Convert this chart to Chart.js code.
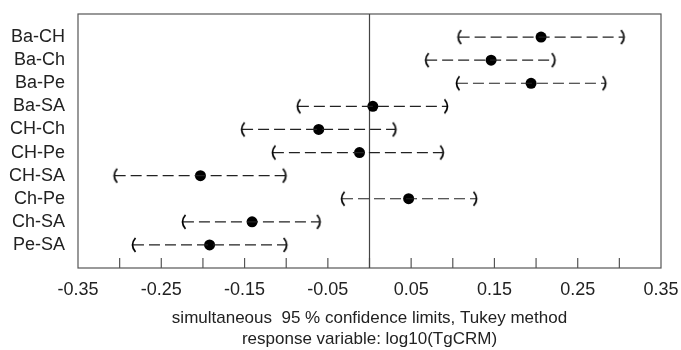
<!DOCTYPE html>
<html>
<head>
<meta charset="utf-8">
<script src="https://cdn.jsdelivr.net/npm/chart.js@4"></script>
<style>
  body { margin: 0; background: #fff; }
</style>
</head>
<body>
<canvas id="myChart" width="681" height="350"></canvas>
<script>
// comparisons, top to bottom
const labels = ['Ba-CH', 'Ba-Ch', 'Ba-Pe', 'Ba-SA', 'CH-Ch', 'CH-Pe', 'CH-SA', 'Ch-Pe', 'Ch-SA', 'Pe-SA'];
const lower = [0.107, 0.068, 0.105, -0.086, -0.153, -0.116, -0.306, -0.033, -0.224, -0.284];
const estimate = [0.206, 0.146, 0.194, 0.004, -0.061, -0.012, -0.203, 0.047, -0.141, -0.192];
const upper = [0.305, 0.222, 0.283, 0.093, 0.031, 0.088, -0.101, 0.128, -0.060, -0.100];
const xTicks = [-0.35, -0.25, -0.15, -0.05, 0.05, 0.15, 0.25, 0.35];

const makeParen = (open) => {
  const c = document.createElement('canvas');
  c.width = 10;
  c.height = 18;
  const g = c.getContext('2d');
  g.strokeStyle = '#000';
  g.lineWidth = 1.7;
  g.beginPath();
  if (open) {
    g.moveTo(7.5, 2);
    g.quadraticCurveTo(1.5, 9, 7.5, 16);
  } else {
    g.moveTo(2.5, 2);
    g.quadraticCurveTo(8.5, 9, 2.5, 16);
  }
  g.stroke();
  return c;
};
const openParen = makeParen(true);
const closeParen = makeParen(false);

const datasets = labels.map((name, i) => ({
  label: name,
  data: [{ x: lower[i], y: i + 1 }, { x: upper[i], y: i + 1 }],
  showLine: true,
  borderColor: '#222',
  borderWidth: 1.2,
  borderDash: [11, 5],
  pointStyle: [openParen, closeParen],
  pointRadius: 5,
}));

datasets.push({
  label: 'estimate',
  data: estimate.map((v, i) => ({ x: v, y: i + 1 })),
  showLine: false,
  pointStyle: 'circle',
  pointRadius: 5.5,
  backgroundColor: '#000',
  borderWidth: 0,
});

// box, inner tick marks and the zero line
const frame = {
  id: 'frame',
  beforeDatasetsDraw(chart) {
    const { ctx, chartArea: a } = chart;
    const xs = chart.scales.x;
    ctx.save();
    ctx.strokeStyle = '#555';
    ctx.lineWidth = 1.2;
    ctx.strokeRect(a.left, a.top, a.right - a.left, a.bottom - a.top);
    xs.ticks.forEach((t, i) => {
      if (i === 0 || i === xs.ticks.length - 1) return;
      const px = xs.getPixelForValue(t.value);
      ctx.beginPath();
      ctx.moveTo(px, a.bottom);
      ctx.lineTo(px, a.bottom - 10);
      ctx.stroke();
    });
    const z = xs.getPixelForValue(0);
    ctx.strokeStyle = '#444';
    ctx.beginPath();
    ctx.moveTo(z, a.top);
    ctx.lineTo(z, a.bottom);
    ctx.stroke();
    ctx.restore();
  }
};

new Chart(document.getElementById('myChart'), {
  type: 'scatter',
  data: { datasets },
  plugins: [frame],
  options: {
    responsive: false,
    animation: false,
    devicePixelRatio: 1,
    layout: { padding: { top: 14, right: 20, left: 0, bottom: 0 } },
    plugins: { legend: { display: false }, tooltip: { enabled: false } },
    scales: {
      x: {
        type: 'linear',
        min: -0.35,
        max: 0.35,
        grid: { display: false },
        border: { display: false },
        ticks: {
          stepSize: 0.05,
          autoSkip: false,
          maxRotation: 0,
          padding: 3,
          color: '#222',
          font: { family: 'Liberation Sans, Arial, sans-serif', size: 18 },
          callback: (v) => {
            const hit = xTicks.find(t => Math.abs(t - v) < 1e-6);
            return hit === undefined ? '' : hit.toFixed(2);
          }
        },
        title: {
          display: true,
          text: ['simultaneous  95 % confidence limits, Tukey method', 'response variable: log10(TgCRM)'],
          color: '#222',
          font: { family: 'Liberation Sans, Arial, sans-serif', size: 17, lineHeight: 1.25 },
          padding: { top: 0, bottom: 0 }
        },
        afterFit: (s) => { s.height = 82; s.paddingLeft = 0; s.paddingRight = 0; }
      },
      y: {
        type: 'linear',
        min: 0,
        max: 11,
        reverse: true,
        grid: { display: false },
        border: { display: false },
        ticks: {
          stepSize: 1,
          autoSkip: false,
          padding: 5,
          color: '#222',
          font: { family: 'Liberation Sans, Arial, sans-serif', size: 18 },
          callback: (v) => labels[v - 1] || ''
        },
        afterFit: (s) => { s.width = 78; s.paddingTop = 0; s.paddingBottom = 0; }
      }
    }
  }
});
</script>
</body>
</html>
